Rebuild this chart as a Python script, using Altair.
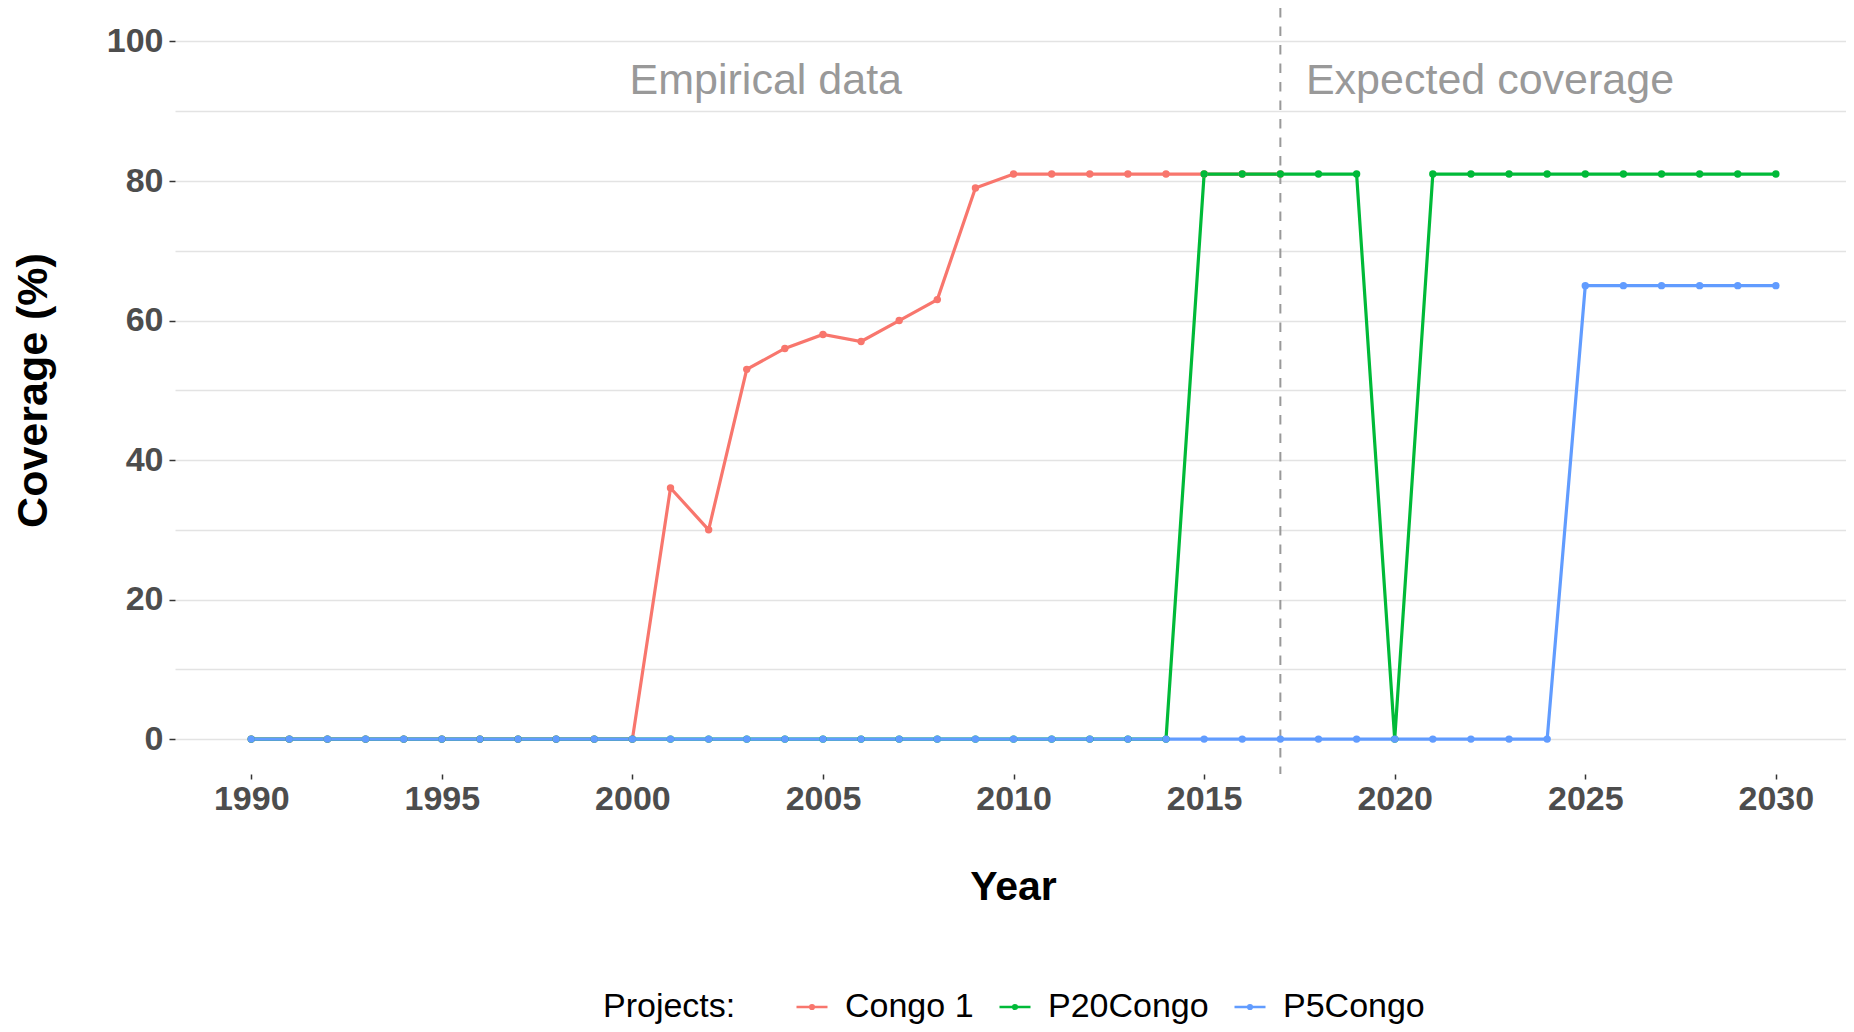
import altair as alt
import pandas as pd

# ---- data ----
series_names = ["Congo 1", "P20Congo", "P5Congo"]
series_colors = ["#F8766D", "#00BA38", "#619CFF"]

congo1_years = [1990, 1991, 1992, 1993, 1994, 1995, 1996, 1997, 1998, 1999,
                2000, 2001, 2002, 2003, 2004, 2005, 2006, 2007, 2008, 2009,
                2010, 2011, 2012, 2013, 2014, 2015, 2016, 2017]
congo1_values = [0, 0, 0, 0, 0, 0, 0, 0, 0, 0,
                 0, 36, 30, 53, 56, 58, 57, 60, 63, 79,
                 81, 81, 81, 81, 81, 81, 81, 81]

all_years = [1990, 1991, 1992, 1993, 1994, 1995, 1996, 1997, 1998, 1999,
             2000, 2001, 2002, 2003, 2004, 2005, 2006, 2007, 2008, 2009,
             2010, 2011, 2012, 2013, 2014, 2015, 2016, 2017, 2018, 2019,
             2020, 2021, 2022, 2023, 2024, 2025, 2026, 2027, 2028, 2029, 2030]
p20_values = [0, 0, 0, 0, 0, 0, 0, 0, 0, 0,
              0, 0, 0, 0, 0, 0, 0, 0, 0, 0,
              0, 0, 0, 0, 0, 81, 81, 81, 81, 81,
              0, 81, 81, 81, 81, 81, 81, 81, 81, 81, 81]
p5_values = [0, 0, 0, 0, 0, 0, 0, 0, 0, 0,
             0, 0, 0, 0, 0, 0, 0, 0, 0, 0,
             0, 0, 0, 0, 0, 0, 0, 0, 0, 0,
             0, 0, 0, 0, 0, 65, 65, 65, 65, 65, 65]

x_tick_values = [1990, 1995, 2000, 2005, 2010, 2015, 2020, 2025, 2030]
y_tick_values = [0, 10, 20, 30, 40, 50, 60, 70, 80, 90, 100]

period_labels = ["Empirical data", "Expected coverage"]
period_label_year = [2003.5, 2022.5]
period_label_cov = [94.3, 94.3]
cutoff_year = [2017]

# ---- tables ----
rows = []
for y, v in zip(congo1_years, congo1_values):
    rows.append({"Year": y, "Coverage": v, "Project": series_names[0]})
for y, v in zip(all_years, p20_values):
    rows.append({"Year": y, "Coverage": v, "Project": series_names[1]})
for y, v in zip(all_years, p5_values):
    rows.append({"Year": y, "Coverage": v, "Project": series_names[2]})
df = pd.DataFrame(rows)

df_text = pd.DataFrame({"Year": period_label_year, "Coverage": period_label_cov,
                        "label": period_labels})
df_rule = pd.DataFrame({"Year": cutoff_year})

FONT = "Liberation Sans"

x_scale = alt.Scale(domain=[1988, 2031.84], nice=False, zero=False)
y_scale = alt.Scale(domain=[-5, 104.8], nice=False, zero=False)

x_axis = alt.Axis(
    values=x_tick_values, format="d", grid=False, domain=False,
    tickColor="#333333", tickSize=5, tickWidth=1.5,
    labelFont=FONT, labelFontSize=34, labelFontWeight="bold",
    labelColor="#4D4D4D", labelPadding=3.5,
    title="Year", titleFont=FONT, titleFontSize=41, titleFontWeight="bold",
    titleColor="black", titleBaseline="alphabetic", titleY=125, titleX=838,
)
y_axis = alt.Axis(
    values=y_tick_values,
    labelExpr="datum.value % 20 == 0 ? datum.label : ''",
    grid=True, gridColor="#E3E3E3", gridWidth=1.3, domain=False,
    tickColor={"condition": {"test": "datum.value % 20 == 0", "value": "#333333"},
               "value": "transparent"},
    tickSize=6, tickWidth=1.5,
    labelFont=FONT, labelFontSize=34, labelFontWeight="bold",
    labelColor="#4D4D4D", labelPadding=6,
    title="Coverage (%)", titleFont=FONT, titleFontSize=43,
    titleFontWeight="bold", titleColor="black",
    titleBaseline="alphabetic", titleX=-129, titleY=382,
)

legend_symbol = ("M-1,0H1M-0.12,0A0.12,0.12 0 1,0 0.12,0"
                 "A0.12,0.12 0 1,0 -0.12,0Z")

legend = alt.Legend(
    title="Projects:", orient="none", legendX=428, legendY=982,
    direction="horizontal", titleOrient="left",
    titleFont=FONT, titleFontSize=34, titleFontWeight="normal",
    titleColor="black", titleBaseline="middle", titleAnchor="middle",
    titlePadding=59,
    labelFont=FONT, labelFontSize=34, labelColor="black", labelLimit=400,
    labelOffset=16, columnPadding=20,
    symbolType=legend_symbol, symbolSize=961, symbolStrokeWidth=2.5,
    symbolOpacity=1, padding=0,
)

rule = alt.Chart(df_rule).mark_rule(
    color="#999999", strokeWidth=2, strokeDash=[9.5, 9]
).encode(x=alt.X("Year:Q", scale=x_scale, axis=x_axis))

lines = alt.Chart(df).mark_line(
    strokeWidth=3.2,
    point=alt.OverlayMarkDef(size=55, filled=True, opacity=1),
).encode(
    x=alt.X("Year:Q", scale=x_scale, axis=x_axis),
    y=alt.Y("Coverage:Q", scale=y_scale, axis=y_axis),
    color=alt.Color("Project:N",
                    scale=alt.Scale(domain=series_names, range=series_colors),
                    legend=legend),
    order="Year:Q",
)

text = alt.Chart(df_text).mark_text(
    font=FONT, fontSize=43, color="#999999", align="center", baseline="middle"
).encode(
    x=alt.X("Year:Q", scale=x_scale, axis=x_axis),
    y=alt.Y("Coverage:Q", scale=y_scale, axis=y_axis),
    text="label:N",
)

chart = alt.layer(rule, lines, text).properties(
    width=1671, height=766,
    background="white",
    autosize=alt.AutoSizeParams(type="none"),
    padding={"left": 167, "top": 0, "right": 0, "bottom": 250},
).configure_view(stroke=None)

chart.save("out.html", embed_options={"renderer": "svg", "actions": False})
